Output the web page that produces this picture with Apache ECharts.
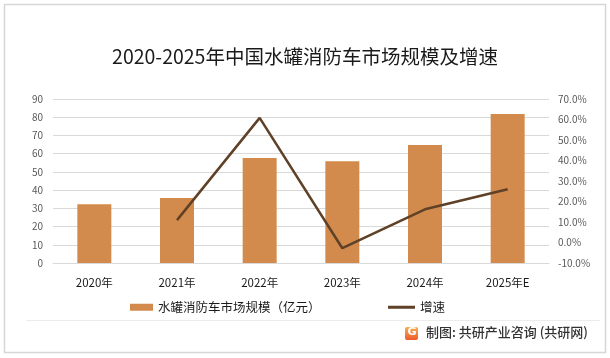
<!DOCTYPE html>
<html>
<head>
<meta charset="utf-8">
<script src="https://cdn.jsdelivr.net/npm/echarts@6/dist/echarts.min.js"></script>
<style>
html,body{margin:0;padding:0;background:#fff;}
#c{width:610px;height:358px;}
</style>
</head>
<body>
<div id="c"></div>
<script>
var categories = ['2020年','2021年','2022年','2023年','2024年','2025年E'];
var marketSize = [32.3, 35.7, 57.6, 55.9, 64.7, 81.7];
var growthRate = [null, 10.9, 60.8, -2.8, 16.2, 26.0];
var leftTicks = {min: 0, max: 90, interval: 10};
var rightTicks = {min: -10, max: 70, interval: 10};

var font = '"Noto Sans CJK SC", "Noto Sans", sans-serif';
var chart = echarts.init(document.getElementById('c'), null, {renderer: 'canvas'});
chart.setOption({
  backgroundColor: '#fff',
  animation: false,
  textStyle: {fontFamily: font},
  title: {
    text: '2020-2025年中国水罐消防车市场规模及增速',
    left: 'center',
    top: 42,
    textStyle: {fontSize: 19.5, fontWeight: 'normal', color: '#1a1a1a', fontFamily: font}
  },
  grid: {left: 53, right: 61, top: 99, bottom: 95, containLabel: false},
  legend: [{
    data: [{name: '水罐消防车市场规模（亿元）', icon: 'rect'}],
    left: 125, top: 296,
    itemWidth: 23, itemHeight: 7,
    textStyle: {fontSize: 12.5, color: '#1a1a1a', fontFamily: font}
  }, {
    data: [{name: '增速', icon: 'rect'}],
    left: 383, top: 296,
    itemWidth: 27, itemHeight: 3,
    textStyle: {fontSize: 12.5, color: '#1a1a1a', fontFamily: font}
  }],
  xAxis: {
    type: 'category',
    data: categories,
    axisLine: {show: true, lineStyle: {color: '#d9d9d9'}},
    axisTick: {show: false},
    axisLabel: {fontSize: 11.5, color: '#1a1a1a', margin: 14, fontFamily: font}
  },
  yAxis: [{
    type: 'value',
    min: leftTicks.min, max: leftTicks.max, interval: leftTicks.interval,
    axisLine: {show: false},
    axisTick: {show: false},
    splitLine: {lineStyle: {color: '#d9d9d9'}},
    axisLabel: {fontSize: 10, color: '#595959', margin: 10, fontFamily: font}
  }, {
    type: 'value',
    min: rightTicks.min, max: rightTicks.max, interval: rightTicks.interval,
    axisLine: {show: false},
    axisTick: {show: false},
    splitLine: {show: false},
    axisLabel: {fontSize: 10, color: '#595959', margin: 9, fontFamily: font,
      formatter: function (v) { return v.toFixed(1) + '%'; }}
  }],
  series: [{
    name: '水罐消防车市场规模（亿元）',
    type: 'bar',
    data: marketSize,
    barWidth: 34,
    itemStyle: {color: '#D38B4D'}
  }, {
    name: '增速',
    type: 'line',
    yAxisIndex: 1,
    data: growthRate,
    symbol: 'none',
    lineStyle: {color: '#5E4127', width: 2.5},
    itemStyle: {color: '#5E4127'}
  }],
  graphic: [{
    type: 'rect',
    shape: {x: 4.5, y: 4.5, width: 601, height: 348},
    style: {fill: 'none', stroke: '#d6d6d6', lineWidth: 1.5},
    silent: true
  }, {
    type: 'line',
    shape: {x1: 26, y1: 320.5, x2: 600, y2: 320.5},
    style: {stroke: '#ececec', lineWidth: 1},
    silent: true
  }, {
    type: 'rect',
    shape: {x: 405, y: 327, width: 13, height: 13, r: 2},
    style: {fill: new echarts.graphic.LinearGradient(0, 0, 0, 1, [{offset: 0, color: '#F9B04F'}, {offset: 1, color: '#EE5A2C'}])},
    silent: true
  }, {
    type: 'text',
    left: 407.5, top: 327,
    style: {text: 'G', fill: '#fff', font: 'bold 11px "DejaVu Sans", sans-serif'},
    silent: true
  }, {
    type: 'text',
    left: 426, top: 326,
    style: {text: '制图: 共研产业咨询 (共研网)', fill: '#333', font: '500 13px "Noto Sans CJK SC", sans-serif'},
    silent: true
  }]
});
</script>
</body>
</html>
